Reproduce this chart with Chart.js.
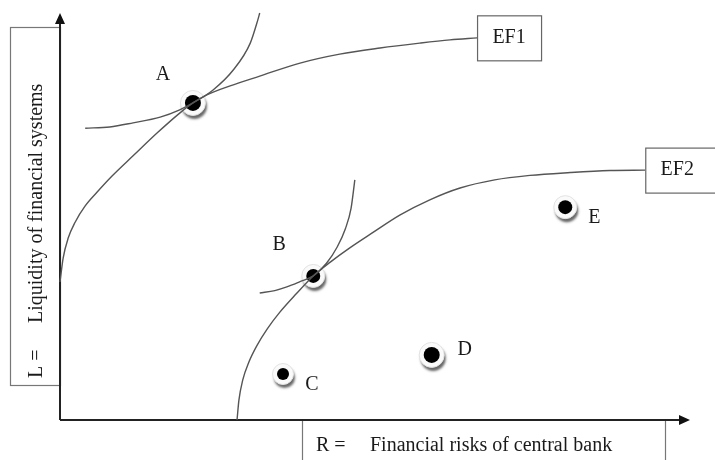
<!DOCTYPE html>
<html>
<head>
<meta charset="utf-8">
<script src="https://cdn.jsdelivr.net/npm/chart.js@4/dist/chart.umd.min.js"></script>
<style>
  html,body{margin:0;padding:0;background:#fff;}
  #wrap{width:715px;height:460px;position:relative;}
</style>
</head>
<body>
<div id="wrap"><canvas id="c" width="715" height="460"></canvas></div>
<script>
// risk (x) vs liquidity (y), both on a 0-100 schematic scale
const ef1X = [0, 0.5, 1.3, 2.4, 4.0, 5.9, 8.3, 11.6, 15.4, 19.0, 21.1, 23.3, 27.0, 31.7, 38.1, 44.4, 50.8, 57.1, 61.9, 66.2];
const ef1Y = [33.9, 39.8, 44.7, 48.6, 52.6, 56.0, 60.0, 64.9, 70.5, 75.4, 77.9, 79.9, 82.1, 84.5, 87.7, 89.9, 91.4, 92.6, 93.4, 93.9];

const ef2X = [28.1, 28.4, 29.0, 30.0, 31.3, 32.9, 34.9, 37.5, 40.2, 42.9, 46.0, 49.5, 54.0, 58.7, 63.5, 69.0, 74.6, 81.0, 87.3, 92.9];
const ef2Y = [0, 4.9, 9.8, 14.3, 18.4, 22.4, 26.5, 31.0, 35.4, 38.8, 42.3, 45.9, 50.4, 54.1, 57.0, 59.0, 60.1, 60.8, 61.3, 61.4];

// indifference curves touching A and B
const icAX = [4.0, 7.9, 11.6, 15.9, 19.0, 21.1, 24.3, 27.5, 30.2, 31.4, 31.7];
const icAY = [71.7, 72.0, 73.0, 74.4, 76.2, 77.9, 81.1, 86.0, 92.6, 98.3, 100];
const icBX = [31.7, 34.1, 36.0, 38.1, 40.2, 42.3, 44.0, 45.3, 46.2, 46.8];
const icBY = [31.2, 31.8, 32.7, 34.0, 35.4, 38.5, 42.5, 47.0, 52.0, 59.0];

const pointNames = ['A', 'B', 'C', 'D', 'E'];
const pointX = [21.1, 40.2, 35.4, 59.0, 80.2];
const pointY = [77.9, 35.4, 11.3, 16.0, 52.3];

const frontierNames = ['EF1', 'EF2'];

// style stuff
const dotRadius = [8, 7, 6, 8, 7];
const labelOffset = [[-30,-28],[-34,-31],[29,11],[33,-5],[29,11]];
const SERIF = '"Liberation Serif","Times New Roman",serif';

function pts(xs, ys){ return xs.map((x,i)=>({x:x, y:ys[i]})); }

function curve(data){
  return {type:'line', data:data, borderColor:'#555', borderWidth:1.4, pointRadius:0,
    cubicInterpolationMode:'monotone', fill:false};
}

const decor = {
  id:'decor',
  beforeDatasetsDraw(chart){
    const ctx = chart.ctx, a = chart.chartArea;
    ctx.save();
    // axis title boxes
    ctx.strokeStyle = '#777'; ctx.lineWidth = 1.2;
    ctx.strokeRect(10.5, 27.5, a.left-10, 358);
    ctx.strokeRect(302.5, a.bottom, 363, 60);
    // axes
    ctx.strokeStyle = '#222'; ctx.fillStyle = '#111'; ctx.lineWidth = 2;
    ctx.beginPath();
    ctx.moveTo(a.left, a.bottom); ctx.lineTo(a.left, a.top+10);
    ctx.moveTo(a.left, a.bottom); ctx.lineTo(a.right-10, a.bottom);
    ctx.stroke();
    ctx.beginPath();
    ctx.moveTo(a.left, a.top); ctx.lineTo(a.left-5, a.top+11); ctx.lineTo(a.left+5, a.top+11); ctx.closePath();
    ctx.moveTo(a.right, a.bottom); ctx.lineTo(a.right-11, a.bottom-5); ctx.lineTo(a.right-11, a.bottom+5); ctx.closePath();
    ctx.fill();
    ctx.restore();
  },
  beforeDatasetDraw(chart, args){
    if (args.index !== 4) return;
    const ctx = chart.ctx;
    const meta = chart.getDatasetMeta(4);
    ctx.save();
    meta.data.forEach((p,i)=>{
      const r = dotRadius[i] + 4.5;
      ctx.shadowColor = 'rgba(0,0,0,0.6)';
      ctx.shadowOffsetX = 1.5; ctx.shadowOffsetY = 3.5; ctx.shadowBlur = 2.5;
      ctx.fillStyle = '#fafafa';
      ctx.beginPath(); ctx.arc(p.x, p.y, r, 0, Math.PI*2); ctx.fill();
      ctx.shadowColor = 'transparent';
      ctx.strokeStyle = '#e2e2e2'; ctx.lineWidth = 1;
      ctx.stroke();
    });
    ctx.restore();
  },
  afterDraw(chart){
    const ctx = chart.ctx;
    const xs = chart.scales.x, ys = chart.scales.y;
    ctx.save();
    ctx.fillStyle = '#1a1a1a';
    ctx.font = '20px ' + SERIF;
    ctx.textAlign = 'center'; ctx.textBaseline = 'middle';
    // point letters
    const meta = chart.getDatasetMeta(4);
    meta.data.forEach((p,i)=>{
      ctx.fillText(pointNames[i], p.x + labelOffset[i][0], p.y + labelOffset[i][1]);
    });
    // frontier boxes at the end of each curve
    const ends = [[ef1X[ef1X.length-1], ef1Y[ef1Y.length-1]], [ef2X[ef2X.length-1], ef2Y[ef2Y.length-1]]];
    const boxW = [64, 72];
    ends.forEach((e,i)=>{
      const px = xs.getPixelForValue(e[0]), py = ys.getPixelForValue(e[1]);
      ctx.strokeStyle = '#666'; ctx.lineWidth = 1.2;
      ctx.fillStyle = '#fff';
      ctx.fillRect(px, py-22.5, boxW[i], 45);
      ctx.strokeRect(px+0.5, py-22, boxW[i], 45);
      ctx.fillStyle = '#1a1a1a';
      ctx.fillText(frontierNames[i], px + 32, py);
    });
    // x axis title
    ctx.textAlign = 'left';
    ctx.fillText('R =', 316, 446);
    ctx.fillText('Financial risks of central bank', 370, 446);
    // y axis title
    ctx.translate(37, 0);
    ctx.rotate(-Math.PI/2);
    ctx.fillText('L =', -378, 0);
    ctx.fillText('Liquidity of financial systems', -323, 0);
    ctx.restore();
  }
};

new Chart(document.getElementById('c').getContext('2d'), {
  type:'scatter',
  data:{
    datasets:[
      curve(pts(ef1X, ef1Y)),
      curve(pts(ef2X, ef2Y)),
      curve(pts(icAX, icAY)),
      curve(pts(icBX, icBY)),
      {type:'scatter', data:pts(pointX, pointY), backgroundColor:'#000', borderWidth:0,
       pointRadius:dotRadius, pointHoverRadius:dotRadius}
    ]
  },
  options:{
    responsive:false, animation:false,
    layout:{padding:{left:60, right:25, top:13, bottom:40}},
    plugins:{legend:{display:false}, tooltip:{enabled:false}},
    scales:{
      x:{type:'linear', min:0, max:100, display:false},
      y:{type:'linear', min:0, max:100, display:false}
    },
    clip:false
  },
  plugins:[decor]
});
</script>
</body>
</html>
